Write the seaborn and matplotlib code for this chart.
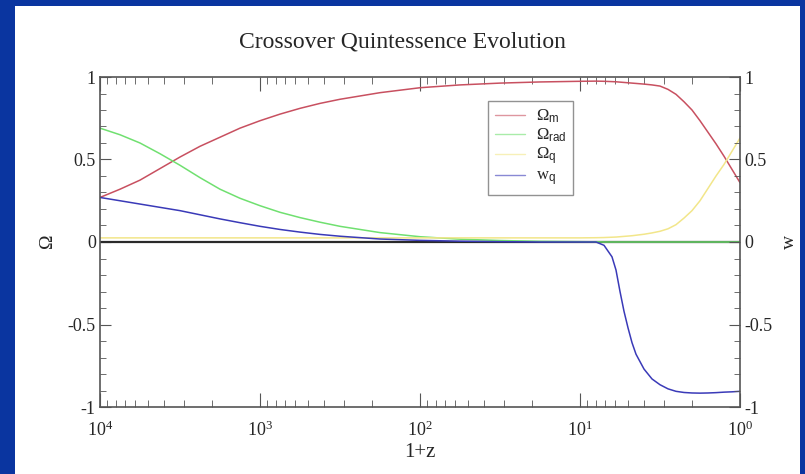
import matplotlib
matplotlib.use("Agg")
import matplotlib.pyplot as plt
import matplotlib.patches as mpatches
from matplotlib.ticker import FixedLocator, MultipleLocator, LogLocator, NullFormatter
import seaborn as sns
import numpy as np
import pandas as pd

# log10(1+z) sample positions
log_1pz = np.array([4.0, 3.875, 3.75, 3.625, 3.5, 3.375, 3.25, 3.125, 3.0, 2.875, 2.75,
                    2.625, 2.5, 2.25, 2.0, 1.75, 1.5, 1.25, 1.0, 0.9, 0.85, 0.8, 0.775,
                    0.75, 0.725, 0.7, 0.675, 0.65, 0.6, 0.55, 0.5, 0.45, 0.4, 0.35, 0.3,
                    0.25, 0.2, 0.15, 0.1, 0.05, 0.0])
omega_m = [0.27, 0.32, 0.375, 0.445, 0.515, 0.58, 0.635, 0.69, 0.735, 0.775, 0.81,
           0.84, 0.865, 0.905, 0.935, 0.952, 0.963, 0.97, 0.974, 0.975, 0.974, 0.972, 0.971,
           0.969, 0.967, 0.965, 0.963, 0.961, 0.957, 0.952, 0.945, 0.925, 0.895, 0.85, 0.80,
           0.735, 0.665, 0.595, 0.52, 0.44, 0.36]
omega_rad = [0.69, 0.65, 0.60, 0.535, 0.465, 0.39, 0.32, 0.265, 0.22, 0.18, 0.148,
             0.12, 0.095, 0.057, 0.032, 0.017, 0.009, 0.004, 0.002, 0.001, 0.0, 0.0, 0.0,
             0.0, 0.0, 0.0, 0.0, 0.0, 0.0, 0.0, 0.0, 0.0, 0.0, 0.0, 0.0,
             0.0, 0.0, 0.0, 0.0, 0.0, 0.0]
omega_q = [0.025, 0.025, 0.025, 0.025, 0.025, 0.025, 0.025, 0.025, 0.025, 0.025, 0.025,
           0.025, 0.025, 0.025, 0.025, 0.025, 0.025, 0.025, 0.025, 0.026, 0.027, 0.029, 0.03,
           0.032, 0.034, 0.036, 0.038, 0.041, 0.047, 0.055, 0.065, 0.08, 0.105, 0.145, 0.19,
           0.25, 0.325, 0.40, 0.47, 0.55, 0.63]
w_q = [0.27, 0.25, 0.23, 0.21, 0.19, 0.165, 0.14, 0.117, 0.095, 0.076, 0.06,
       0.046, 0.035, 0.018, 0.01, 0.005, 0.002, 0.0, 0.0, 0.0, -0.02, -0.09, -0.17,
       -0.30, -0.42, -0.52, -0.61, -0.68, -0.77, -0.83, -0.865, -0.89, -0.905, -0.912, -0.915,
       -0.916, -0.915, -0.913, -0.91, -0.908, -0.905]

series_names = [r"$\Omega_{\mathsf{m}}$", r"$\Omega_{\mathsf{rad}}$",
                r"$\Omega_{\mathsf{q}}$", r"$\mathrm{w}_{\mathsf{q}}$"]
series_values = [omega_m, omega_rad, omega_q, w_q]
colors = ["#c85060", "#70e070", "#f2e68a", "#3a3ab8"]

x_ticks = [1e4, 1e3, 1e2, 1e1, 1e0]
x_ticklabels = [r"$10^4$", r"$10^3$", r"$10^2$", r"$10^1$", r"$10^0$"]
y_ticks = [-1, -0.5, 0, 0.5, 1]
y_ticklabels = ["-1", "-0.5", "0", "0.5", "1"]

df = pd.concat(
    [pd.DataFrame({"one_plus_z": 10 ** log_1pz, "value": v, "series": n})
     for n, v in zip(series_names, series_values)],
    ignore_index=True,
)

sns.set_style("ticks")
plt.rcParams["font.family"] = ["Liberation Serif", "DejaVu Serif"]
plt.rcParams["mathtext.fontset"] = "custom"
plt.rcParams["mathtext.rm"] = "Liberation Serif"
plt.rcParams["mathtext.it"] = "Liberation Serif:italic"
plt.rcParams["mathtext.sf"] = "Liberation Sans"

fig = plt.figure(figsize=(8.05, 4.74), dpi=100)
fig.patch.set_facecolor("#0a35a0")
fig.patches.append(mpatches.Rectangle((15 / 805, 0), (800 - 15) / 805, 1 - 6 / 474,
                                      transform=fig.transFigure, facecolor="white",
                                      edgecolor="none", zorder=-1))

ax = fig.add_axes([100 / 805, 1 - 407 / 474, 640 / 805, 330 / 474])
ax.set_facecolor("white")

sns.lineplot(data=df, x="one_plus_z", y="value", hue="series", palette=colors,
             linewidth=1.1, ax=ax, sort=False, estimator=None)
ax.axhline(0, color="#2a2a2a", linewidth=1.6, zorder=1)

ax.set_xscale("log")
ax.set_xlim(1e4, 1e0)
ax.set_ylim(-1, 1)

ax.xaxis.set_major_locator(FixedLocator(x_ticks))
ax.xaxis.set_minor_locator(LogLocator(base=10, subs=np.arange(2, 10)))
ax.xaxis.set_minor_formatter(NullFormatter())
ax.set_xticklabels(x_ticklabels)
ax.yaxis.set_major_locator(FixedLocator(y_ticks))
ax.yaxis.set_minor_locator(MultipleLocator(0.1))
ax.set_yticklabels(y_ticklabels)

ax.tick_params(axis="x", which="both", direction="in", top=True, bottom=True,
               labelsize=13, pad=10, color="#555555")
ax.tick_params(axis="x", which="major", length=10)
ax.tick_params(axis="x", which="minor", length=5)
ax.tick_params(axis="y", which="both", direction="in", labelsize=13, pad=3,
               color="#555555")
ax.tick_params(axis="y", which="major", length=8)
ax.tick_params(axis="y", which="minor", length=4)

for sp in ax.spines.values():
    sp.set_color("#555555")
    sp.set_linewidth(1.2)

ax.set_xlabel("1+z", fontsize=15, labelpad=2)
ax.set_ylabel(r"$\Omega$", fontsize=14, labelpad=8)

ax2 = ax.twinx()
ax2.set_ylim(-1, 1)
ax2.yaxis.set_major_locator(FixedLocator(y_ticks))
ax2.yaxis.set_minor_locator(MultipleLocator(0.1))
ax2.set_yticklabels(y_ticklabels)
ax2.tick_params(axis="y", which="both", direction="in", labelsize=13, pad=3,
                color="#555555")
ax2.tick_params(axis="y", which="major", length=8)
ax2.tick_params(axis="y", which="minor", length=4)
ax2.set_ylabel("w", fontsize=14, labelpad=6)
for sp in ax2.spines.values():
    sp.set_visible(False)

leg = ax.legend(loc="upper left", bbox_to_anchor=(0.606, 0.927), borderaxespad=0,
                frameon=True, fancybox=False, fontsize=12, handlelength=1.8,
                labelspacing=0.1, borderpad=0.4, handletextpad=0.7)
leg.get_frame().set_edgecolor("#777777")
leg.get_frame().set_linewidth(1.0)
for line in leg.get_lines():
    line.set_linewidth(1.0)
    line.set_alpha(0.6)

fig.text(0.5, 1 - 42 / 474, "Crossover Quintessence Evolution", ha="center",
         va="center", fontsize=17)

fig.savefig("out.png", dpi=100, facecolor=fig.get_facecolor())
